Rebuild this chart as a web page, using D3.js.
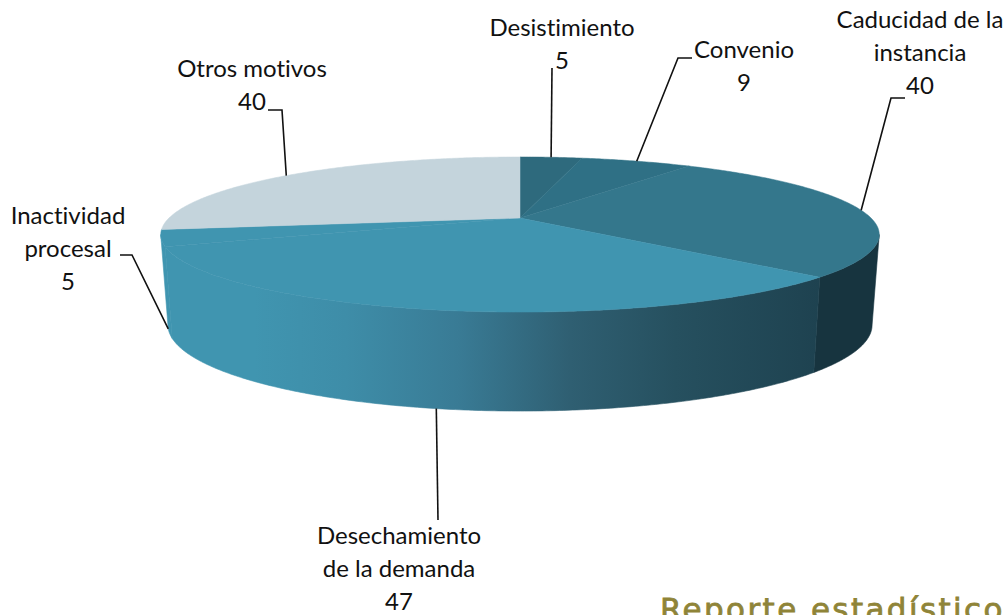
<!DOCTYPE html>
<html lang="es">
<head>
    <meta charset="UTF-8">
    <title>Reporte estadístico</title>
    <script src="https://d3js.org/d3.v7.min.js"></script>
    <style>
        html, body { margin: 0; padding: 0; background: #fff; overflow: hidden; }
        .label text { font-family: Lato, sans-serif; font-size: 24px; fill: #111; text-anchor: middle; font-variant-ligatures: none; }
        .leader { fill: none; stroke: #111; stroke-width: 1.6; }
        .footer { font-family: "DejaVu Sans", sans-serif; font-size: 31px; letter-spacing: 2.4px; fill: #8f8438; stroke: #8f8438; stroke-width: 0.8; }
    </style>
</head>
<body>
<div id="chart"></div>
<script>
// Chart data, clockwise from 12 o'clock
const categories = ["Desistimiento", "Convenio", "Caducidad de la instancia", "Desechamiento de la demanda", "Inactividad procesal", "Otros motivos"];
const values = [5, 9, 40, 47, 5, 40];
const labelLines = [
    ["Desistimiento", "5"],
    ["Convenio", "9"],
    ["Caducidad de la", "instancia", "40"],
    ["Desechamiento", "de la demanda", "47"],
    ["Inactividad", "procesal", "5"],
    ["Otros motivos", "40"]
];
const topColors = ["#2e6a7d", "#2f7085", "#34778c", "#4095b0", "#4095b0", "#c4d4dc"];
const wallColors = ["#2e6a7d", "#2f7085", "#17343f", "url(#frontWall)", "#4095b0", "#c4d4dc"];

// Label placement: centre x, first baseline, leader elbow points after the slice anchor
const labelPos = [
    {x: 562, y: 36, leader: [[552, 68]]},
    {x: 744, y: 58, leader: [[678, 58], [692, 58]]},
    {x: 920, y: 28, leader: [[891, 98], [905, 98]]},
    {x: 399, y: 544, leader: [[438, 520]]},
    {x: 68, y: 224, leader: [[132, 255], [120, 255]]},
    {x: 252, y: 77, leader: [[282, 110], [268, 110]]}
];
const lineHeight = 33;

const width = 1008, height = 615;
const cx = 520;

// Perspective projection of the disc: top and bottom planes of the cylinder
const tilt = -0.213;
const topPlane = {r: 351, a: 27.6, b: 218};
const bottomPlane = {r: 344, a: 16.8, b: 306.7};

function project2(u, v, plane) {
    const w = 1 + tilt * v;
    return [cx + plane.r * u / w, (plane.a * v + plane.b) / w];
}
function project(angle, plane) {
    return project2(Math.sin(angle), -Math.cos(angle), plane);
}

// arc sampled between two angles
function arcPoints(a0, a1, plane) {
    const steps = Math.max(2, Math.ceil(Math.abs(a1 - a0) / 0.01));
    return d3.range(steps + 1).map(i => project(a0 + (a1 - a0) * i / steps, plane));
}

const svg = d3.select("#chart").append("svg")
    .attr("width", width)
    .attr("height", height)
    .style("display", "block");

const grad = svg.append("defs").append("linearGradient")
    .attr("id", "frontWall")
    .attr("gradientUnits", "userSpaceOnUse")
    .attr("x1", 162).attr("x2", 820).attr("y1", 0).attr("y2", 0);
[[0, "#4095b0"], [0.14, "#4095b0"], [0.28, "#3e8da8"], [0.45, "#397b95"], [0.62, "#2f5f72"], [0.78, "#26505f"], [1, "#1e4250"]]
    .forEach(s => grad.append("stop").attr("offset", s[0]).attr("stop-color", s[1]));

const slices = d3.pie().sort(null).value(d => d)(values);
const line = d3.line();

// Only the front of the wall is visible: between the two silhouette angles
const silhouette = Math.acos(-0.213);
const wallStart = silhouette, wallEnd = 2 * Math.PI - silhouette;

svg.append("g").selectAll("path")
    .data(slices.filter(d => d.endAngle > wallStart && d.startAngle < wallEnd))
    .join("path")
    .attr("d", d => {
        const a0 = Math.max(d.startAngle, wallStart), a1 = Math.min(d.endAngle, wallEnd);
        return line(arcPoints(a0, a1, topPlane).concat(arcPoints(a1, a0, bottomPlane))) + "Z";
    })
    .attr("fill", d => wallColors[d.index])
    .attr("stroke", d => wallColors[d.index])
    .attr("stroke-width", 0.6);

// Top face
const apex = project2(0, 0, topPlane);
svg.append("g").selectAll("path")
    .data(slices)
    .join("path")
    .attr("d", d => line([apex].concat(arcPoints(d.startAngle, d.endAngle, topPlane))) + "Z")
    .attr("fill", d => topColors[d.index])
    .attr("stroke", d => topColors[d.index])
    .attr("stroke-width", 0.5);

// Leaders
const leaderPlanes = [topPlane, topPlane, topPlane, bottomPlane, bottomPlane, topPlane];
svg.append("g").selectAll("path")
    .data(slices)
    .join("path")
    .attr("class", "leader")
    .attr("d", d => {
        const mid = (d.startAngle + d.endAngle) / 2;
        return line([project(mid, leaderPlanes[d.index])].concat(labelPos[d.index].leader));
    });

// Labels
const labels = svg.append("g").attr("class", "label").selectAll("text")
    .data(categories)
    .join("text")
    .attr("transform", (d, i) => `translate(${labelPos[i].x},${labelPos[i].y})`);
labels.selectAll("tspan")
    .data((d, i) => labelLines[i])
    .join("tspan")
    .attr("x", 0)
    .attr("y", (d, i) => i * lineHeight)
    .text(d => d);

svg.append("text")
    .attr("class", "footer")
    .attr("x", 660)
    .attr("y", 620)
    .text("Reporte estadístico");
</script>
</body>
</html>
